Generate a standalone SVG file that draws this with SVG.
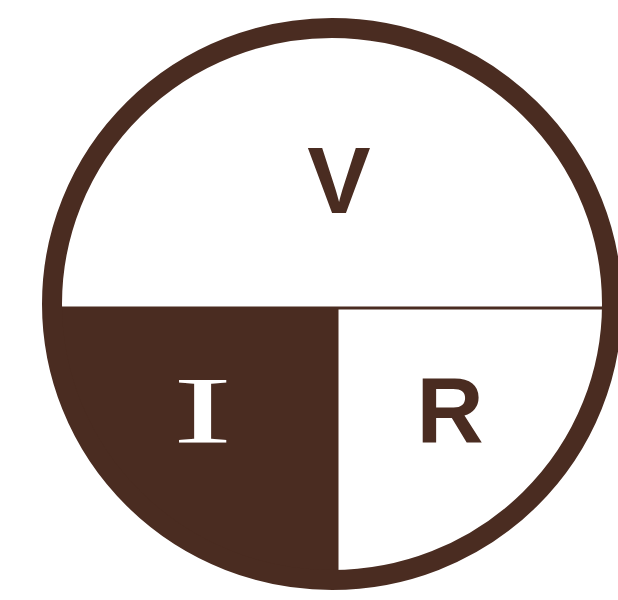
<svg xmlns="http://www.w3.org/2000/svg" width="618" height="600" viewBox="0 0 618 600">
  <style>
    .ink { fill: #4a2c21; }
    .line { stroke: #4a2c21; fill: none; }
    .sans { font-family: "Liberation Sans", Arial, sans-serif; font-weight: bold; fill: #4a2c21; }
    .serif { font-family: "Liberation Serif", "DejaVu Serif", serif; font-weight: normal; }
  </style>
  <rect width="618" height="600" fill="#ffffff"/>
  <g id="quadrant-I">
    <path class="ink" d="M 52,308 L 337,308 L 337,580 A 280 276 0 0 1 52,308 Z"/>
    <text class="serif" transform="translate(202.5 443) scale(1.9 1)" x="0" y="0" font-size="95" text-anchor="middle" fill="#ffffff">I</text>
  </g>
  <g id="connectors">
    <line class="line" x1="52" y1="308" x2="612" y2="308" stroke-width="3"/>
    <line class="line" x1="337" y1="308" x2="337" y2="580" stroke-width="3"/>
  </g>
  <g id="section-V">
    <text class="sans" x="339" y="213" font-size="95" text-anchor="middle">V</text>
  </g>
  <g id="section-R">
    <text class="sans" x="450" y="442" font-size="93" text-anchor="middle">R</text>
  </g>
  <g id="ring">
    <ellipse cx="332" cy="304" rx="280" ry="276" fill="none" stroke="#4a2c21" stroke-width="20"/>
  </g>
</svg>
